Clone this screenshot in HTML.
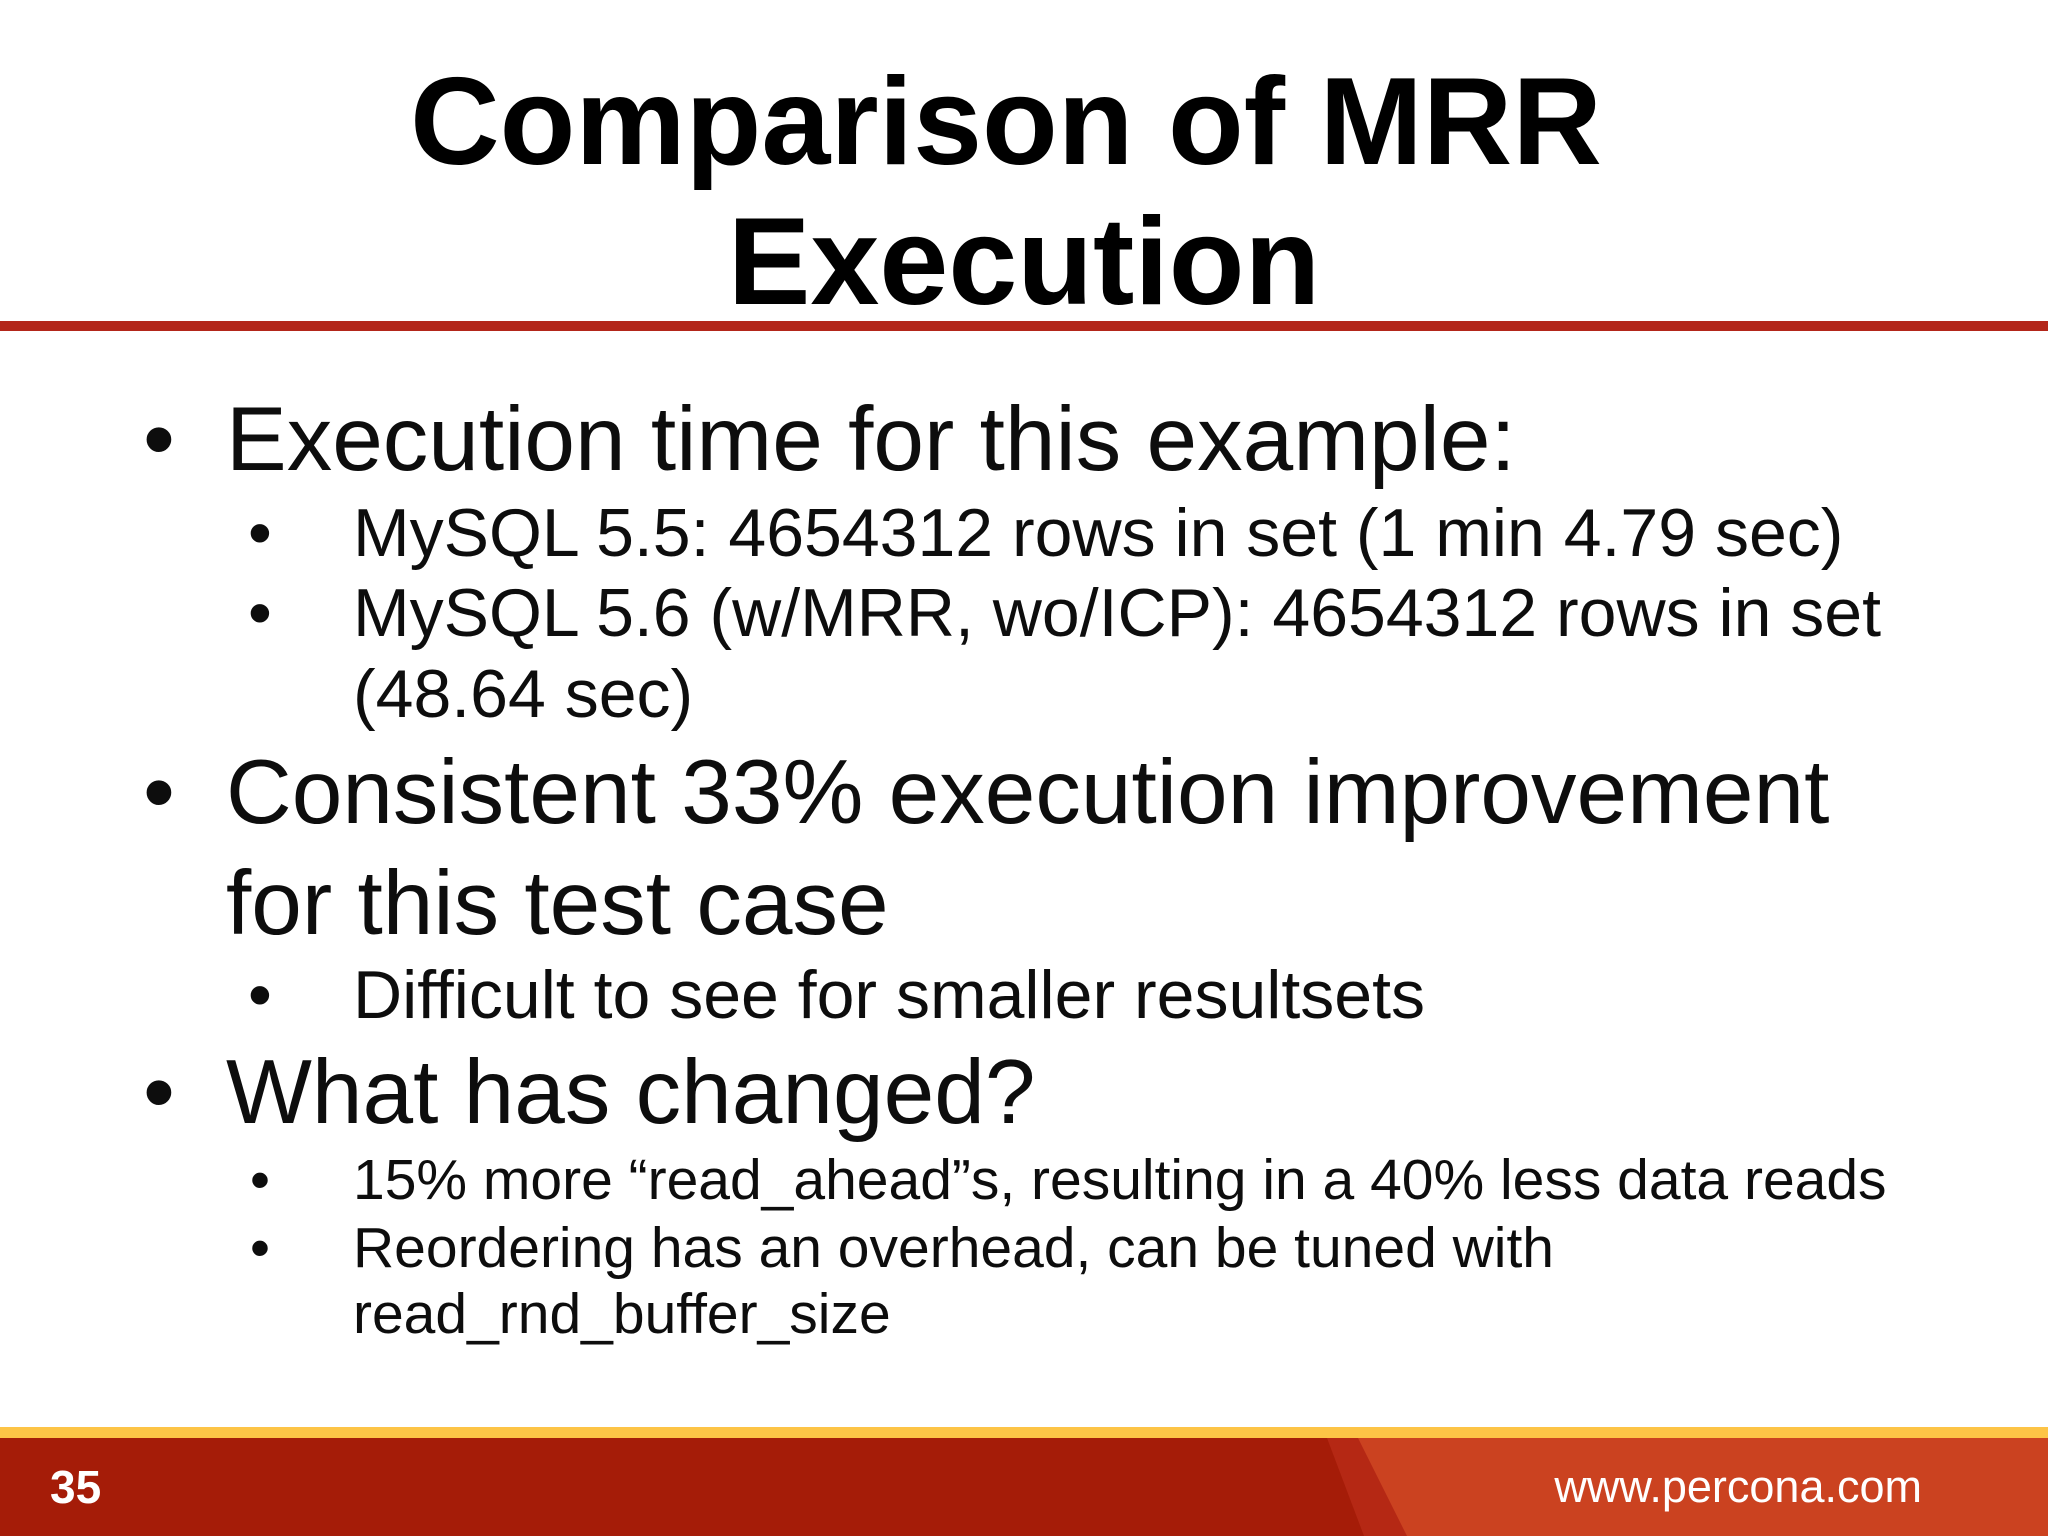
<!DOCTYPE html>
<html><head><meta charset="utf-8"><style>
html,body{margin:0;padding:0;}
body{width:2048px;height:1536px;position:relative;background:#fff;overflow:hidden;font-family:"Liberation Sans",Arial,sans-serif;color:#0d0d0d;}
.t{position:absolute;white-space:nowrap;}
.title{font-weight:bold;font-size:124px;line-height:124px;width:2012px;left:0;text-align:center;color:#000;}
.b{font-size:91px;line-height:91px;}
.s{font-size:68px;line-height:68px;}
.m{font-size:57px;line-height:57px;}
</style></head><body>
<div class="t title" style="top:60px">Comparison of MRR</div>
<div class="t title" style="top:200px;left:18px">Execution</div>
<div style="position:absolute;left:0;top:321px;width:2048px;height:10px;background:#b3261a"></div>

<div class="t b" style="left:143px;top:394px">•</div>
<div class="t b" style="left:226px;top:394px">Execution time for this example:</div>
<div class="t s" style="left:248px;top:499px">•</div>
<div class="t s" style="left:353px;top:499px">MySQL 5.5: 4654312 rows in set (1 min 4.79 sec)</div>
<div class="t s" style="left:248px;top:579px">•</div>
<div class="t s" style="left:353px;top:579px">MySQL 5.6 (w/MRR, wo/ICP): 4654312 rows in set</div>
<div class="t s" style="left:353px;top:660px">(48.64 sec)</div>

<div class="t b" style="left:143px;top:747px">•</div>
<div class="t b" style="left:226px;top:747px">Consistent 33% execution improvement</div>
<div class="t b" style="left:226px;top:858px">for this test case</div>
<div class="t s" style="left:248px;top:961px">•</div>
<div class="t s" style="left:353px;top:961px">Difficult to see for smaller resultsets</div>

<div class="t b" style="left:143px;top:1047px">•</div>
<div class="t b" style="left:226px;top:1047px">What has changed?</div>
<div class="t m" style="left:250px;top:1152px">•</div>
<div class="t m" style="left:353px;top:1152px">15% more “read_ahead”s, resulting in a 40% less data reads</div>
<div class="t m" style="left:250px;top:1220px">•</div>
<div class="t m" style="left:353px;top:1220px">Reordering has an overhead, can be tuned with</div>
<div class="t m" style="left:353px;top:1286px">read_rnd_buffer_size</div>

<div style="position:absolute;left:0;top:1427px;width:2048px;height:11px;background:#fdc446"></div>
<svg style="position:absolute;left:0;top:1438px" width="2048" height="98">
<rect x="0" y="0" width="2048" height="98" fill="#a51c08"/>
<polygon points="1327,0 2048,0 2048,98 1364,98" fill="#b52814"/>
<polygon points="1358,0 2048,0 2048,98 1407,98" fill="#cb4220"/>
</svg>
<div class="t" style="left:50px;top:1464px;font-size:46px;line-height:46px;font-weight:bold;color:#fff">35</div>
<div class="t" style="right:126px;top:1464px;font-size:45px;line-height:45px;color:#fff">www.percona.com</div>
</body></html>
